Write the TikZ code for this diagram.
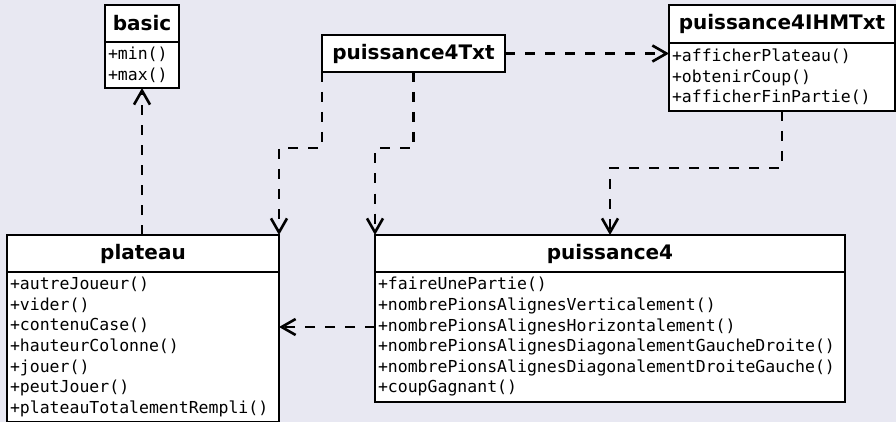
\documentclass[tikz,border=0pt]{standalone}
\usepackage{fontspec}
\usepackage{xcolor}
\usepackage{tikz}
\usetikzlibrary{arrows.meta, positioning, calc}
\newfontfamily\umlsans{DejaVu Sans}
\newfontfamily\umlmono{DejaVu Sans Mono}
\definecolor{umlback}{RGB}{232,232,242}

\begin{document}
\begin{tikzpicture}[x=1pt, y=1pt,
    classname/.style={draw, fill=white, line width=2.6pt, outer sep=0pt, inner sep=0pt,
      minimum height=37pt, anchor=north west, font=\umlsans\bfseries\fontsize{20}{24}\selectfont},
    classops/.style={draw, fill=white, line width=2.6pt, outer sep=0pt, inner xsep=3pt, inner ysep=0pt,
      align=left, anchor=north west, font=\umlmono\fontsize{16.5}{20.6}\selectfont},
    dep/.style={line width=2.6pt, dash pattern=on 10pt off 10pt, -{Straight Barb[length=14pt, width=16pt]}}]
    % Background and page size
    \fill[umlback] (0,0) rectangle (896,-422);
    \useasboundingbox (0,0) rectangle (896,-422);

    % Classes
    \node[classname, minimum width=74pt] (basic) at (105,-5) {basic};
    \node[classops, text width=68pt, minimum height=46pt] (basicops) at (basic.south west) {+min()\\+max()};

    \node[classname, minimum width=183pt] (p4txt) at (322,-35) {puissance4Txt};

    \node[classname, minimum width=226pt, minimum height=38pt] (ihm) at (669,-5) {puissance4IHMTxt};
    \node[classops, text width=220pt, minimum height=68pt] (ihmops) at (ihm.south west)
      {+afficherPlateau()\\+obtenirCoup()\\+afficherFinPartie()};

    \node[classname, minimum width=272pt] (plateau) at (7,-235) {plateau};
    \node[classops, text width=266pt, minimum height=150pt] (plateauops) at (plateau.south west)
      {+autreJoueur()\\+vider()\\+contenuCase()\\+hauteurColonne()\\+jouer()\\+peutJouer()\\+plateauTotalementRempli()};

    \node[classname, minimum width=470pt] (puissance4) at (375,-235) {puissance4};
    \node[classops, text width=464pt, minimum height=130pt] (p4ops) at (puissance4.south west)
      {+faireUnePartie()\\+nombrePionsAlignesVerticalement()\\+nombrePionsAlignesHorizontalement()\\
       +nombrePionsAlignesDiagonalementGaucheDroite()\\+nombrePionsAlignesDiagonalementDroiteGauche()\\+coupGagnant()};

    % Dependencies
    \draw[dep] (plateau.north -| basicops.south) -- (basicops.south);
    \draw[dep] (p4txt.south west) -- ++(0,-76) -| (plateau.north east);
    \draw[dep] (p4txt.south) -- ++(0,-76) -| (puissance4.north west);
    \draw[dep] (p4txt.east) -- (p4txt.east -| ihmops.west);
    \draw[dep] (ihmops.south) -- ++(0,-57) -| (puissance4.north);
    \draw[dep] ([yshift=10pt]p4ops.west) -- ([yshift=10pt]p4ops.west -| plateauops.east);
\end{tikzpicture}
\end{document}
